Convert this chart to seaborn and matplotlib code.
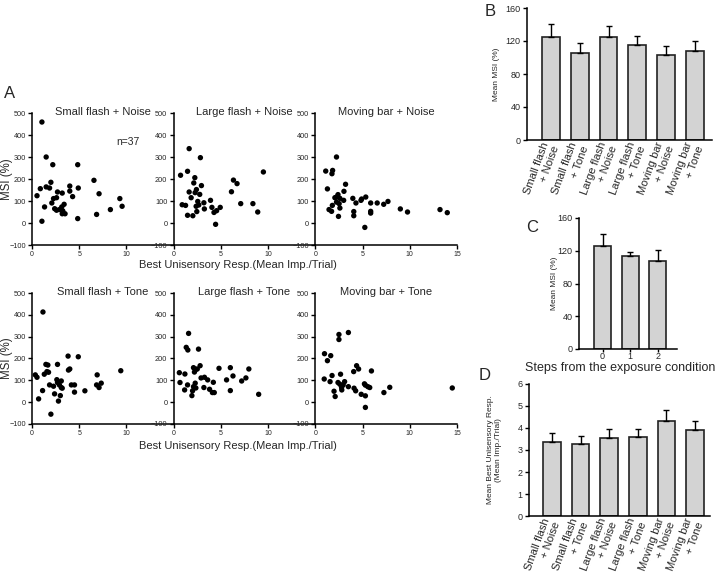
import numpy as np
import pandas as pd
import matplotlib
matplotlib.use("Agg")
import matplotlib.pyplot as plt
import seaborn as sns

sns.set_theme(style="ticks")
plt.rcParams['font.family'] = ['Liberation Sans', 'DejaVu Sans']

# ---------------- data ----------------
panel_titles = ["Small flash + Noise", "Large flash + Noise", "Moving bar + Noise",
                "Small flash + Tone", "Large flash + Tone", "Moving bar + Tone"]

sfn_x = [1.05, 1.5, 2.2, 4.84, 0.53, 0.88, 1.5, 1.86, 2.0, 1.05, 1.33, 2.28, 2.1, 2.6, 2.7, 3.2, 2.4, 2.6,
         2.9, 3.15, 3.4, 3.26, 3.5, 3.2, 4.0, 4.0, 4.3, 4.9, 4.84, 6.56, 7.1, 6.84, 8.3, 9.3, 9.54]
sfn_y = [459, 300, 265, 265, 124, 156, 164, 159, 185, 8, 73, 111, 91, 115, 141, 136, 65, 58,
         61, 73, 85, 55, 42, 42, 168, 145, 120, 159, 20, 194, 133, 39, 61, 111, 76]

lfn_x = [1.64, 2.83, 0.73, 1.47, 2.24, 2.13, 2.94, 1.64, 2.41, 2.27, 2.76, 1.85, 0.9, 1.26, 2.55, 2.38, 2.66, 3.2,
         3.25, 1.47, 2.03, 2.45, 3.9, 4.05, 4.27, 4.55, 4.93, 4.44, 6.12, 6.33, 6.71, 7.1, 8.39, 8.9, 9.5]
lfn_y = [338, 297, 217, 235, 206, 182, 170, 141, 152, 138, 130, 115, 83, 80, 98, 76, 82, 92,
         64, 35, 33, 52, 103, 71, 48, 56, 71, -6, 142, 195, 179, 88, 88, 50, 232]

mbn_x = [2.24, 1.1, 1.83, 1.76, 1.28, 3.2, 3.03, 2.4, 2.07, 2.24, 2.6, 3.0, 2.24, 2.52, 1.8, 1.45, 1.72, 2.6, 2.45,
         3.97, 4.3, 4.07, 4.07, 4.83, 4.9, 5.34, 5.24, 5.86, 5.86, 5.86, 6.55, 7.24, 7.69, 9.0, 9.76, 13.2, 13.97]
mbn_y = [300, 236, 239, 224, 155, 176, 144, 129, 115, 118, 112, 103, 95, 88, 80, 61, 53, 68, 30,
         112, 91, 52, 33, 103, 109, 118, -20, 91, 53, 45, 91, 85, 98, 64, 50, 61, 47]

sft_x = [1.16, 0.35, 0.53, 0.7, 1.12, 1.3, 1.58, 1.47, 1.68, 1.75, 1.86, 2.0, 2.28, 2.39, 2.7, 2.63, 2.7, 2.9,
         3.1, 2.8, 3.0, 3.1, 3.2, 3.82, 3.86, 4.0, 4.17, 4.5, 4.5, 4.9, 5.6, 6.9, 6.84, 7.1, 7.33, 9.4]
sft_y = [413, 125, 114, 15, 53, 128, 140, 173, 170, 137, 79, -55, 73, 38, 173, 103, 90, 79,
         97, 5, 30, 67, 64, 211, 147, 152, 79, 79, 46, 208, 52, 125, 79, 67, 87, 144]

lft_x = [1.58, 1.33, 1.5, 2.63, 0.6, 0.67, 1.19, 1.16, 1.47, 1.93, 2.1, 2.35, 2.2, 2.5, 2.8, 2.28, 2.1, 2.35,
         2.0, 2.9, 3.26, 3.2, 3.6, 3.8, 4.1, 4.3, 4.2, 4.8, 5.6, 6.0, 6.0, 6.28, 7.2, 7.65, 7.96, 9.0]
lft_y = [315, 251, 239, 243, 135, 90, 129, 56, 79, 30, 158, 150, 138, 152, 167, 87, 71, 65,
         52, 111, 114, 67, 102, 59, 44, 44, 91, 155, 102, 158, 53, 120, 97, 111, 152, 36]

mbt_x = [2.5, 2.5, 3.5, 0.97, 1.63, 1.28, 0.94, 1.56, 1.77, 1.98, 2.1, 2.4, 2.67, 2.6, 2.78, 2.8, 3.1, 2.95,
         3.5, 4.06, 4.37, 4.58, 4.1, 4.27, 4.86, 5.2, 5.3, 5.56, 5.76, 5.3, 5.3, 5.94, 7.26, 7.88, 14.5]
mbt_y = [310, 287, 319, 222, 213, 190, 106, 94, 122, 50, 26, 90, 128, 82, 67, 56, 94, 79,
         71, 140, 167, 152, 64, 52, 36, 84, 78, 71, 67, 29, -24, 143, 44, 68, 65]

bar_categories = ["Small flash\n+ Noise", "Small flash\n+ Tone", "Large flash\n+ Noise",
                  "Large flash\n+ Tone", "Moving bar\n+ Noise", "Moving bar\n+ Tone"]
msi_mean = [125, 105.5, 124.5, 115.5, 103.5, 107.5]
msi_err = [15, 12, 13.5, 10.5, 10.5, 12.5]

steps = ["0", "1", "2"]
steps_mean = [126, 113, 108]
steps_err = [14.5, 6, 13]

resp_mean = [3.37, 3.28, 3.55, 3.58, 4.33, 3.92]
resp_err = [0.39, 0.36, 0.39, 0.36, 0.5, 0.41]

# ---------------- figure ----------------
W, H = 720, 579
fig = plt.figure(figsize=(7.2, 5.79), dpi=100)


def px_axes(x0, y0, x1, y1):
    return fig.add_axes([x0 / W, 1 - y1 / H, (x1 - x0) / W, (y1 - y0) / H])


def style_axes(ax, lw=1.1):
    for s in ["top", "right"]:
        ax.spines[s].set_visible(False)
    for s in ["left", "bottom"]:
        ax.spines[s].set_linewidth(lw)
        ax.spines[s].set_color("black")
    ax.tick_params(direction="out", length=3, width=1, color="black", pad=1.5)


scatter_x = [sfn_x, lfn_x, mbn_x, sft_x, lft_x, mbt_x]
scatter_y = [sfn_y, lfn_y, mbn_y, sft_y, lft_y, mbt_y]
pw = (457 - 32) / 3.0
rows = [(113, 245), (293, 424)]
for i in range(6):
    r, c = divmod(i, 3)
    x0 = 32 + c * pw
    ax = px_axes(x0, rows[r][0], x0 + pw, rows[r][1])
    df = pd.DataFrame({"resp": scatter_x[i], "msi": scatter_y[i]})
    sns.scatterplot(data=df, x="resp", y="msi", ax=ax, color="black", s=15,
                    linewidth=0, edgecolor="none", legend=False)
    ax.set_xlim(0, 15)
    ax.set_ylim(-100, 500)
    ax.set_yticks(range(-100, 501, 100))
    ax.set_xticks([0, 5, 10, 15] if c == 2 else [0, 5, 10])
    style_axes(ax)
    ax.tick_params(axis="y", labelsize=5.3)
    ax.tick_params(axis="x", labelsize=5)
    ax.set_xlabel("")
    ax.set_ylabel("")
    ax.patch.set_alpha(0)
    ax.text(0.5, 1.01, panel_titles[i], transform=ax.transAxes, ha="center", va="center",
            fontsize=8)
    if c == 0:
        ax.set_ylabel("MSI (%)", fontsize=8.3)
        ax.yaxis.set_label_coords(-(32 - 13.5) / pw, 0.5)
    if i == 0:
        ax.text(10.2, 370, "n=37", ha="center", va="center", fontsize=7.5)

fig.text(238 / W, 1 - 265 / H, "Best Unisensory Resp.(Mean Imp./Trial)", ha="center",
         va="center", fontsize=8)
fig.text(238 / W, 1 - 446 / H, "Best Unisensory Resp.(Mean Imp./Trial)", ha="center",
         va="center", fontsize=8)

bar_color = "#d3d3d3"
edge_color = "#222222"


def bar_panel(ax, cats, means, errs, xlim):
    df = pd.DataFrame({"cat": cats, "val": means})
    sns.barplot(data=df, x="cat", y="val", ax=ax, color=bar_color, saturation=1,
                edgecolor=edge_color, linewidth=1.2, width=0.62, errorbar=None)
    ax.errorbar(np.arange(len(means)), means, yerr=[np.zeros(len(means)), errs], fmt="none",
                ecolor="black", elinewidth=1, capsize=2.5, capthick=1, zorder=1)
    ax.set_xlim(*xlim)
    ax.set_xlabel("")
    ax.set_ylabel("")
    style_axes(ax)


# Panel B
axB = px_axes(527, 8, 712, 140)
bar_panel(axB, bar_categories, msi_mean, msi_err, (-0.83, 5.59))
axB.set_ylim(0, 160)
axB.set_yticks([0, 40, 80, 120, 160])
axB.tick_params(axis="y", labelsize=6.5)
axB.tick_params(axis="x", length=0, pad=3)
plt.setp(axB.get_xticklabels(), rotation=70, ha="right", va="center",
         rotation_mode="anchor", fontsize=8)
axB.set_ylabel("Mean MSI (%)", fontsize=6)
axB.yaxis.set_label_coords(-(527 - 500) / 185, 0.5)

# Panel C
axC = px_axes(579, 218, 677, 349)
bar_panel(axC, steps, steps_mean, steps_err, (-0.85, 2.69))
axC.set_ylim(0, 160)
axC.set_yticks([0, 40, 80, 120, 160])
axC.tick_params(axis="y", labelsize=6.5)
axC.tick_params(axis="x", labelsize=6.5, length=2, pad=0.5)
axC.set_ylabel("Mean MSI (%)", fontsize=6)
axC.yaxis.set_label_coords(-(579 - 558) / 98, 0.5)
fig.text(620 / W, 1 - 368 / H, "Steps from the exposure condition", ha="center",
         va="center", fontsize=9)

# Panel D
axD = px_axes(529, 384, 710, 516)
bar_panel(axD, bar_categories, resp_mean, resp_err, (-0.8, 5.52))
axD.set_ylim(0, 6)
axD.set_yticks(range(0, 7))
axD.tick_params(axis="y", labelsize=6.5)
axD.tick_params(axis="x", length=0, pad=3)
plt.setp(axD.get_xticklabels(), rotation=70, ha="right", va="center",
         rotation_mode="anchor", fontsize=8)
axD.set_ylabel("Mean Best Unisensory Resp.\n(Mean Imp./Trial)", fontsize=6)
axD.yaxis.set_label_coords(-(529 - 502) / 181, 0.5)

# Panel letters
for letter, (lx, ly) in {"A": (10, 93), "B": (490, 12), "C": (532, 227), "D": (485, 375)}.items():
    fig.text(lx / W, 1 - ly / H, letter, ha="center", va="center", fontsize=12)

fig.savefig("out.png", dpi=100)
